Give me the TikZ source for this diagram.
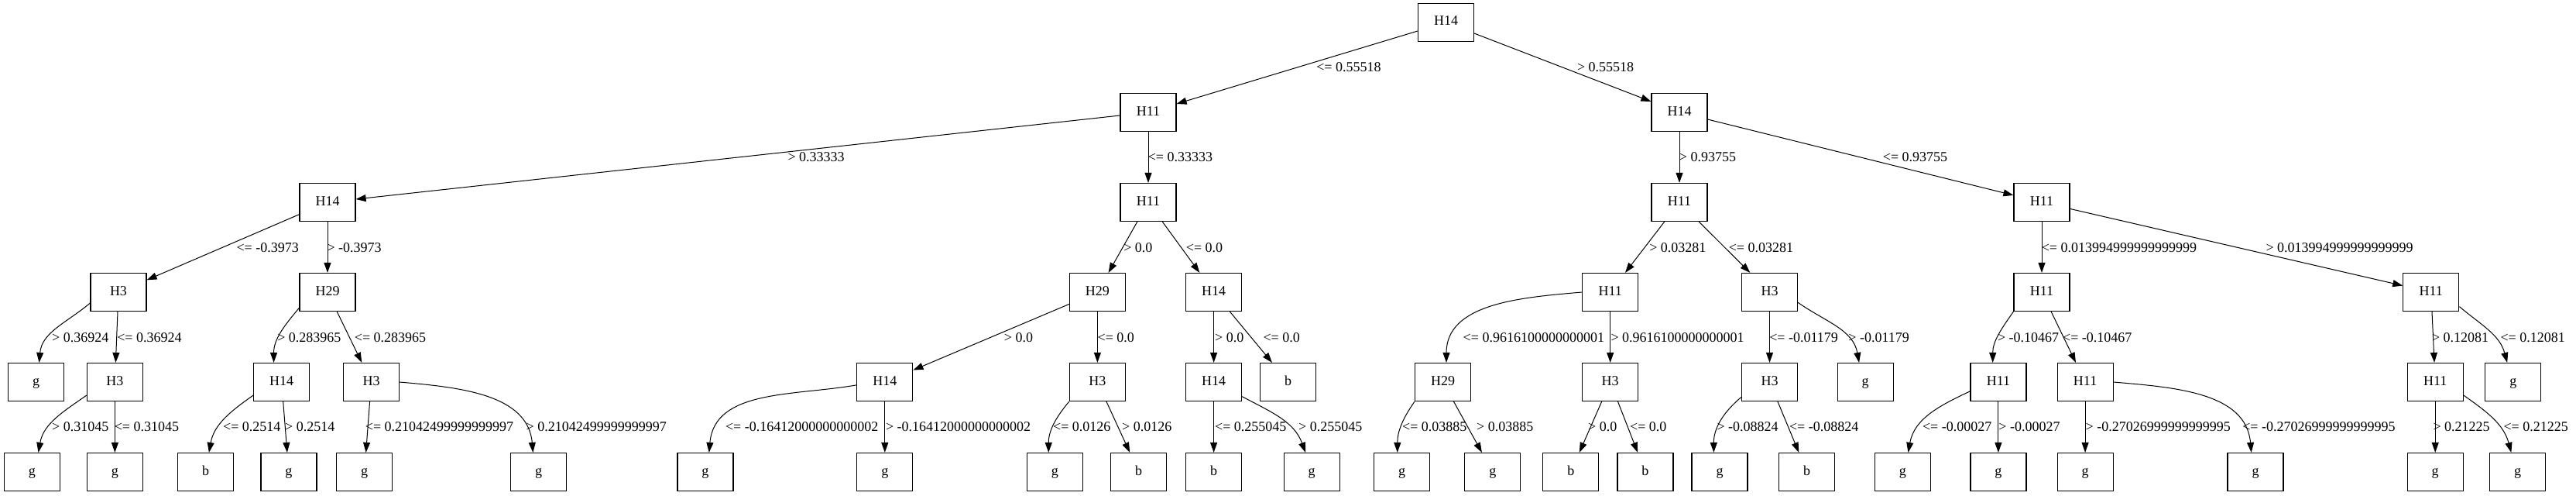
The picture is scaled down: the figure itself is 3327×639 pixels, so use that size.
\documentclass[tikz,border=0pt]{standalone}
\usepackage{fontspec}
\setmainfont{Liberation Serif}
\usepackage{tikz}
\usetikzlibrary{arrows.meta}

\begin{document}
\begin{tikzpicture}[x=0.5pt,y=0.5pt,
	box/.style={draw,line width=0.6pt,rectangle,minimum width=36pt,minimum height=24.5pt,inner sep=0pt,text height=6pt,text depth=2pt,font=\fontsize{9}{10}\selectfont},
	cond/.style={anchor=west,inner sep=0pt,text height=6pt,text depth=0pt,font=\fontsize{9}{10}\selectfont},
	link/.style={draw,line width=0.5pt,-{Triangle[length=6.5pt,width=4.5pt]}}]
	\useasboundingbox (0,0) rectangle (3327,639);
	\node[box] (n0) at (1867.5,610) {H14};
	\node[box] (n1a) at (1483,494) {H11};
	\node[box] (n1b) at (2169,494) {H14};
	\node[box] (n2a) at (423,378) {H14};
	\node[box] (n2b) at (1483,378) {H11};
	\node[box] (n2c) at (2169,378) {H11};
	\node[box] (n2d) at (2637,378) {H11};
	\node[box] (n3a) at (153,262) {H3};
	\node[box] (n3b) at (423,262) {H29};
	\node[box] (n3c) at (1417.4,262) {H29};
	\node[box] (n3d) at (1567.6,262) {H14};
	\node[box] (n3e) at (2079.7,262) {H11};
	\node[box] (n3f) at (2285.5,262) {H3};
	\node[box] (n3g) at (2637,262) {H11};
	\node[box] (n3h) at (3139.8,262) {H11};
	\node[box] (n4a) at (46.6,146) {g};
	\node[box] (n4b) at (148.4,146) {H3};
	\node[box] (n4c) at (363.7,146) {H14};
	\node[box] (n4d) at (479.5,146) {H3};
	\node[box] (n4e) at (1142.8,146) {H14};
	\node[box] (n4f) at (1417.4,146) {H3};
	\node[box] (n4g) at (1567.6,146) {H14};
	\node[box] (n4h) at (1663.7,146) {b};
	\node[box] (n4i) at (1863.6,146) {H29};
	\node[box] (n4j) at (2079.7,146) {H3};
	\node[box] (n4k) at (2285.5,146) {H3};
	\node[box] (n4l) at (2409.2,146) {g};
	\node[box] (n4m) at (2580.9,146) {H11};
	\node[box] (n4n) at (2693.1,146) {H11};
	\node[box] (n4o) at (3145.2,146) {H11};
	\node[box] (n4p) at (3245.8,146) {g};
	\node[box] (n5a) at (41.4,30) {g};
	\node[box] (n5b) at (148.4,30) {g};
	\node[box] (n5c) at (265.5,30) {b};
	\node[box] (n5d) at (372.9,30) {g};
	\node[box] (n5e) at (470.7,30) {g};
	\node[box] (n5f) at (695.6,30) {g};
	\node[box] (n5g) at (910.9,30) {g};
	\node[box] (n5h) at (1142.8,30) {g};
	\node[box] (n5i) at (1362.4,30) {g};
	\node[box] (n5j) at (1470.7,30) {b};
	\node[box] (n5k) at (1567.6,30) {b};
	\node[box] (n5l) at (1694.2,30) {g};
	\node[box] (n5m) at (1810.6,30) {g};
	\node[box] (n5n) at (1927.8,30) {g};
	\node[box] (n5o) at (2028.8,30) {b};
	\node[box] (n5p) at (2124.9,30) {b};
	\node[box] (n5q) at (2221,30) {g};
	\node[box] (n5r) at (2333.7,30) {b};
	\node[box] (n5s) at (2457.3,30) {g};
	\node[box] (n5t) at (2580.9,30) {g};
	\node[box] (n5u) at (2693.1,30) {g};
	\node[box] (n5v) at (2913,30) {g};
	\node[box] (n5w) at (3145.2,30) {g};
	\node[box] (n5x) at (3251.5,30) {g};

	\draw[link] (n0) -- (n1a) node[cond] (c1) at (1699.8,552.5) {<= 0.55518};
	\draw[link] (n0) -- (n1b) node[cond] (c2) at (2036.5,552.5) {> 0.55518};
	\draw[link] (n1a) -- (n2a) node[cond] (c3) at (1017,436.5) {> 0.33333};
	\draw[link] (n1a) -- (n2b) node[cond] (c4) at (1482.3,436.5) {<= 0.33333};
	\draw[link] (n1b) -- (n2c) node[cond] (c5) at (2168.4,436.5) {> 0.93755};
	\draw[link] (n1b) -- (n2d) node[cond] (c6) at (2431.4,436.5) {<= 0.93755};
	\draw[link] (n2a) -- (n3a) node[cond] (c7) at (305,320) {<= -0.3973};
	\draw[link] (n2a) -- (n3b) node[cond] (c8) at (422,320) {> -0.3973};
	\draw[link] (n2b) -- (n3c) node[cond] (c9) at (1450.8,320) {> 0.0};
	\draw[link] (n2b) -- (n3d) node[cond] (c10) at (1531.4,320) {<= 0.0};
	\draw[link] (n2c) -- (n3e) node[cond] (c11) at (2129.8,320) {> 0.03281};
	\draw[link] (n2c) -- (n3f) node[cond] (c12) at (2232.3,320) {<= 0.03281};
	\draw[link] (n2d) -- (n3g) node[cond] (c13) at (2636.3,320) {<= 0.013994999999999999};
	\draw[link] (n2d) -- (n3h) node[cond] (c14) at (2926,320) {> 0.013994999999999999};
	\draw[link] (n3a.201) to[out=220,in=85] (n4a.81) node[cond] (c15) at (66.6,204) {> 0.36924};
	\draw[link] (n3a) -- (n4b) node[cond] (c16) at (150.8,204) {<= 0.36924};
	\draw[link] (n3b.209) to[out=230,in=90] (n4c.112) node[cond] (c17) at (357.8,204) {> 0.283965};
	\draw[link] (n3b) -- (n4d) node[cond] (c18) at (457.4,204) {<= 0.283965};
	\draw[link] (n3c) -- (n4e) node[cond] (c19) at (1296.4,204) {> 0.0};
	\draw[link] (n3c) -- (n4f) node[cond] (c20) at (1417.1,204) {<= 0.0};
	\draw[link] (n3d) -- (n4g) node[cond] (c21) at (1568.6,204) {> 0.0};
	\draw[link] (n3d) -- (n4h) node[cond] (c22) at (1631,204) {<= 0.0};
	\draw[link] (n3e.west) to[out=185,in=90] (n4i.80) node[cond] (c23) at (1889.2,204) {<= 0.9616100000000001};
	\draw[link] (n3e) -- (n4j) node[cond] (c24) at (2080,204) {> 0.9616100000000001};
	\draw[link] (n3f) -- (n4k) node[cond] (c25) at (2284.8,204) {<= -0.01179};
	\draw[link] (n3f.340) to[out=-35,in=100] (n4l.108) node[cond] (c26) at (2386.9,204) {> -0.01179};
	\draw[link] (n3g.south west) to[out=235,in=90] (n4m.106) node[cond] (c27) at (2579.5,204) {> -0.10467};
	\draw[link] (n3g) -- (n4n) node[cond] (c28) at (2663.6,204) {<= -0.10467};
	\draw[link] (n3h) -- (n4o) node[cond] (c29) at (3140.5,204) {> 0.12081};
	\draw[link] (n3h.333) to[out=-40,in=105] (n4p.107) node[cond] (c30) at (3229,204) {<= 0.12081};
	\draw[link] (n4b.205) to[out=215,in=80] (n5a.72) node[cond] (c31) at (66.6,89) {> 0.31045};
	\draw[link] (n4b) -- (n5b) node[cond] (c32) at (147.3,89) {<= 0.31045};
	\draw[link] (n4c.205) to[out=215,in=80] (n5c.80) node[cond] (c33) at (287.6,89) {<= 0.2514};
	\draw[link] (n4c) -- (n5d) node[cond] (c34) at (367.6,89) {> 0.2514};
	\draw[link] (n4d) -- (n5e) node[cond] (c35) at (471.4,89) {<= 0.21042499999999997};
	\draw[link] (n4d.east) to[out=-5,in=95] (n5f.106) node[cond] (c36) at (679.1,89) {> 0.21042499999999997};
	\draw[link] (n4e.186) to[out=190,in=85] (n5g.79) node[cond] (c37) at (936.5,89) {<= -0.16412000000000002};
	\draw[link] (n4e) -- (n5h) node[cond] (c38) at (1143.5,89) {> -0.16412000000000002};
	\draw[link] (n4f.south west) to[out=230,in=90] (n5i.108) node[cond] (c39) at (1359.6,89) {<= 0.0126};
	\draw[link] (n4f) -- (n5j) node[cond] (c40) at (1448.7,89) {> 0.0126};
	\draw[link] (n4g) -- (n5k) node[cond] (c41) at (1568.6,89) {<= 0.255045};
	\draw[link] (n4g.333) to[out=-28,in=110] (n5l.108) node[cond] (c42) at (1676.6,89) {> 0.255045};
	\draw[link] (n4i.south west) to[out=235,in=90] (n5m.103) node[cond] (c43) at (1810.6,89) {<= 0.03885};
	\draw[link] (n4i) -- (n5n) node[cond] (c44) at (1906.7,89) {> 0.03885};
	\draw[link] (n4j) -- (n5o) node[cond] (c45) at (2050.6,89) {> 0.0};
	\draw[link] (n4j) -- (n5p) node[cond] (c46) at (2104.6,89) {<= 0.0};
	\draw[link] (n4k.208) to[out=220,in=90] (n5q.107) node[cond] (c47) at (2217,89) {> -0.08824};
	\draw[link] (n4k) -- (n5r) node[cond] (c48) at (2310.5,89) {<= -0.08824};
	\draw[link] (n4m.198) to[out=205,in=80] (n5s.74) node[cond] (c49) at (2482.5,89) {<= -0.00027};
	\draw[link] (n4m) -- (n5t) node[cond] (c50) at (2580.9,89) {> -0.00027};
	\draw[link] (n4n) -- (n5u) node[cond] (c51) at (2693.1,89) {> -0.27026999999999995};
	\draw[link] (n4n.east) to[out=-5,in=95] (n5v.102) node[cond] (c52) at (2895.8,89) {<= -0.27026999999999995};
	\draw[link] (n4o) -- (n5w) node[cond] (c53) at (3142,89) {> 0.21225};
	\draw[link] (n4o.335) to[out=-35,in=105] (n5x.108) node[cond] (c54) at (3233,89) {<= 0.21225};
\end{tikzpicture}
\end{document}
